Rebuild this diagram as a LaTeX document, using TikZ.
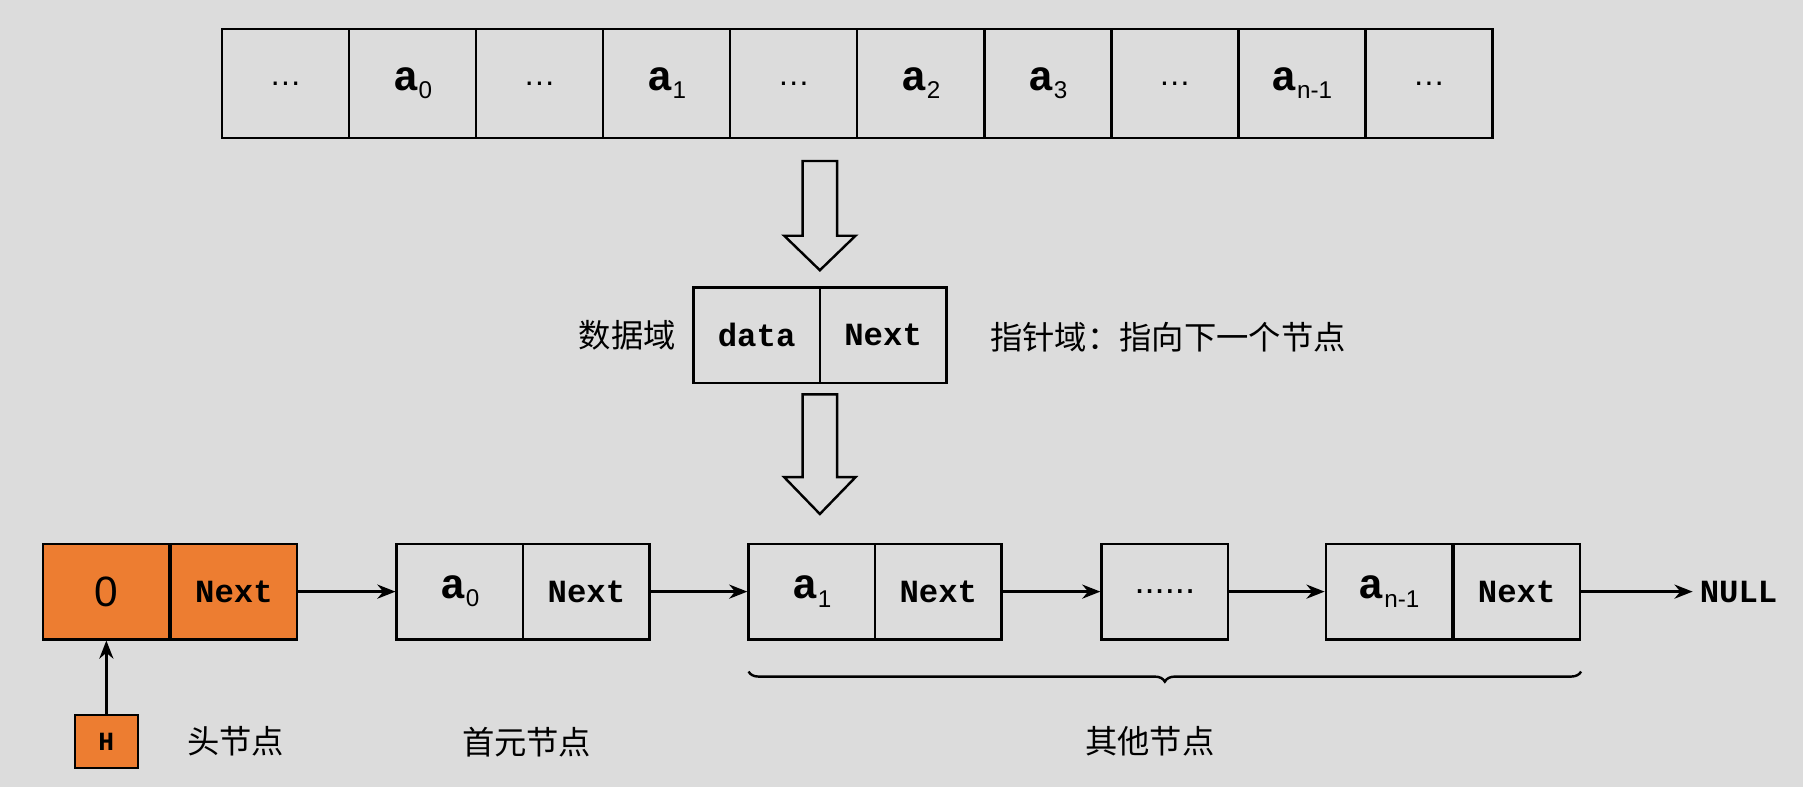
\documentclass[tikz,border=0pt]{standalone}
\usepackage{fontspec}
\setmainfont{Liberation Sans}
\setmonofont{Liberation Mono}
\newfontfamily\cjk{Noto Sans CJK SC}
\usetikzlibrary{decorations.pathreplacing,arrows.meta}
\definecolor{bg}{HTML}{DCDCDC}
\definecolor{org}{HTML}{ED7D31}
\newcommand{\av}[1]{{\fontsize{21}{21}\selectfont a}{\fontsize{12}{12}\selectfont\rmfamily\mdseries\raisebox{-4pt}{#1}}}
\begin{document}
\begin{tikzpicture}[x=0.02cm,y=-0.02cm,
  cell/.style={draw,line width=1.2pt,minimum width=110.5*0.02cm,minimum height=95*0.02cm,inner sep=0pt,font=\fontsize{16}{16}\selectfont\ttfamily\bfseries},
  bcell/.style={draw,line width=1.2pt,minimum width=110*0.02cm,minimum height=83*0.02cm,inner sep=0pt,font=\fontsize{16}{16}\selectfont\ttfamily\bfseries},
  lab/.style={font=\fontsize{16}{16}\selectfont\cjk},
  arr/.style={-{Stealth[length=9pt,width=7pt]},line width=1.2pt},
  hollow/.style={draw,line width=1.2pt,fill=bg}]
\fill[bg] (0,0) rectangle (1568,684);
\useasboundingbox (0,0) rectangle (1568,684);
% top array
\foreach \t [count=\i from 0] in {{\rmfamily\mdseries\dots},\av{0},{\rmfamily\mdseries\dots},\av{1},{\rmfamily\mdseries\dots},\av{2},\av{3},{\rmfamily\mdseries\dots},\av{n-1},{\rmfamily\mdseries\dots}}
  \node[cell] (t\i) at (193+55.25+110.5*\i,72.5) {\t};
% hollow arrows
\draw[hollow] (698,140) -- (728,140) -- (728,205) -- (744,205) -- (713,235) -- (682,205) -- (698,205) -- cycle;
\draw[hollow] (698,343) -- (728,343) -- (728,415) -- (744,415) -- (713,447) -- (682,415) -- (698,415) -- cycle;
% middle node
\node[bcell] (md) at (658,291.5) {data};
\node[bcell] (mn) at (768,291.5) {Next};
\node[lab,anchor=east] (ml) at (594,291.5) {数据域};
\node[lab,anchor=west] (mr) at (855,293) {指针域：指向下一个节点};
% bottom
\node[bcell,fill=org,font=\fontsize{21}{21}\selectfont] (h0) at (92.5,514.5) {0};
\node[bcell,fill=org] (hn) at (203.5,514.5) {Next};
\node[bcell] (a0) at (400,514.5) {\av{0}};
\node[bcell] (a0n) at (510,514.5) {Next};
\node[bcell] (a1) at (706,514.5) {\av{1}};
\node[bcell] (a1n) at (816,514.5) {Next};
\node[bcell,font=\fontsize{18}{18}\selectfont] (dd) at (1013,514.5) {......};
\node[bcell] (an) at (1208,514.5) {\av{n-1}};
\node[bcell] (ann) at (1319,514.5) {Next};
\node[font=\fontsize{16}{16}\selectfont\ttfamily\bfseries,anchor=west] (null) at (1472,514.5) {NULL};
\draw[arr] (hn.east) -- (a0.west);
\draw[arr] (a0n.east) -- (a1.west);
\draw[arr] (a1n.east) -- (dd.west);
\draw[arr] (dd.east) -- (an.west);
\draw[arr] (ann.east) -- (null.west);
\node[draw,line width=1.2pt,fill=org,minimum width=55*0.02cm,minimum height=46*0.02cm,inner sep=0pt,font=\fontsize{13}{13}\selectfont\ttfamily\bfseries] (H) at (92.5,645) {H};
\draw[arr] (H.north) -- (h0.south);
\node[lab] (l1) at (205,645) {头节点};
\node[lab] (l2) at (458,645) {首元节点};
\node[lab] (l3) at (1000,645) {其他节点};
\draw[line width=1.2pt,decorate,decoration={brace,mirror,amplitude=5pt}] (651,584) -- (1375,584);
\end{tikzpicture}
\end{document}
